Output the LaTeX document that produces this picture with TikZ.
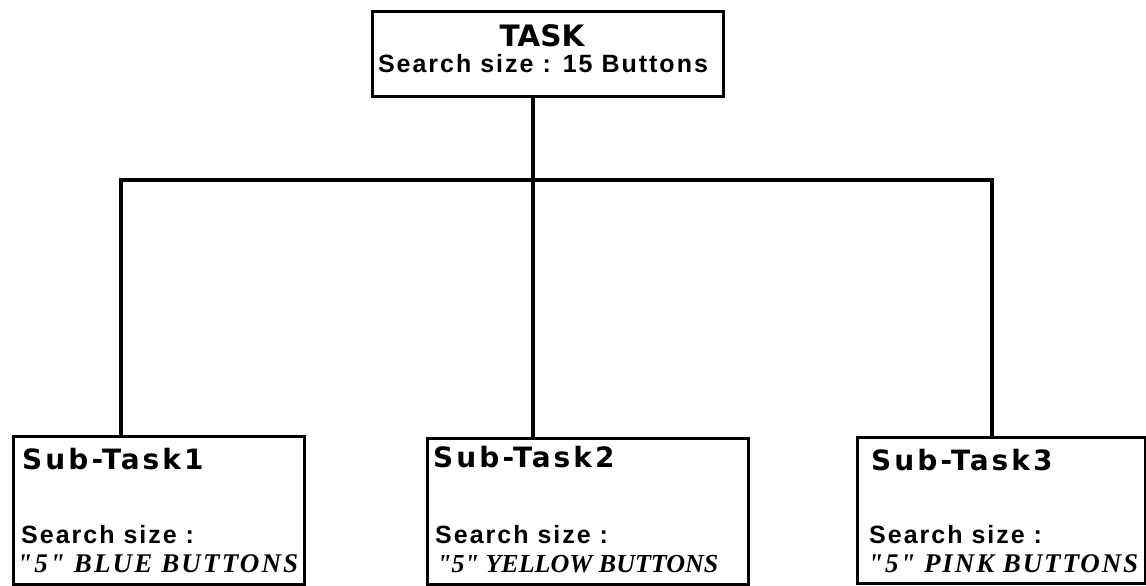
\documentclass[tikz,border=0pt]{standalone}
\usepackage{fontspec}
\newfontfamily\headfont{DejaVu Sans}
\newfontfamily\subheadfont[LetterSpace=11]{DejaVu Sans}
\newfontfamily\sizefont[LetterSpace=8]{Liberation Sans}
\newfontfamily\countfont[LetterSpace=5]{Liberation Serif}
\tikzset{
  box/.style={draw, line width=3.2pt, inner sep=0pt, anchor=north west},
  link/.style={draw, line width=3.2pt, line cap=rect},
  head/.style={inner sep=0pt, anchor=base, font=\headfont\bfseries\fontsize{29.5}{32}\selectfont},
  subhead/.style={inner sep=0pt, anchor=base west, font=\subheadfont\bfseries\fontsize{28}{30}\selectfont},
  sizetext/.style={inner sep=0pt, font=\sizefont\bfseries\fontsize{25}{30}\selectfont},
  counttext/.style={inner sep=0pt, anchor=base west, font=\countfont\bfseries\itshape\fontsize{27}{30}\selectfont},
}
\begin{document}
\begin{tikzpicture}[x=1pt,y=-1pt]
\useasboundingbox (0,0) rectangle (1146,586);

% main task
\node[box, minimum width=351pt, minimum height=85pt] (task) at (371,10) {};
\node[head] (tasktitle) at (542,47) {TASK};
\node[sizetext, anchor=base] (tasksize) at (543,73) {Search size : 15 Buttons};

% sub-tasks
\node[box, minimum width=291pt, minimum height=148pt] (sub1) at (12,435) {};
\node[box, minimum width=321pt, minimum height=146pt] (sub2) at (426,437) {};
\node[box, minimum width=288pt, minimum height=146pt] (sub3) at (856,436) {};

\node[subhead] (sub1title) at (22,469) {Sub-Task1};
\node[sizetext, anchor=base west] (sub1size) at (21,543) {Search size :};
\node[counttext] (sub1count) at (17,572) {\addfontfeature{LetterSpace=8}"5" BLUE BUTTONS};

\node[subhead] (sub2title) at (433,467) {Sub-Task2};
\node[sizetext, anchor=base west] (sub2size) at (435,543) {Search size :};
\node[counttext] (sub2count) at (437,572) {\addfontfeature{LetterSpace=0}\fontsize{26}{30}\selectfont"5" YELLOW BUTTONS};

\node[subhead] (sub3title) at (871,470) {Sub-Task3};
\node[sizetext, anchor=base west] (sub3size) at (869,543) {Search size :};
\node[counttext] (sub3count) at (868,572) {\addfontfeature{LetterSpace=7}"5" PINK BUTTONS};

% tree connectors
\coordinate (hub) at (533,180);
\coordinate (leftend) at (121,180);
\coordinate (rightend) at (992,180);
\draw[link] (task.south -| hub) -- (hub);
\draw[link, line cap=butt] (sub1.north -| leftend) -- (leftend) -- (rightend) -- (sub3.north -| rightend);
\draw[link, line cap=butt] (hub) -- (sub2.north -| hub);
\end{tikzpicture}
\end{document}
